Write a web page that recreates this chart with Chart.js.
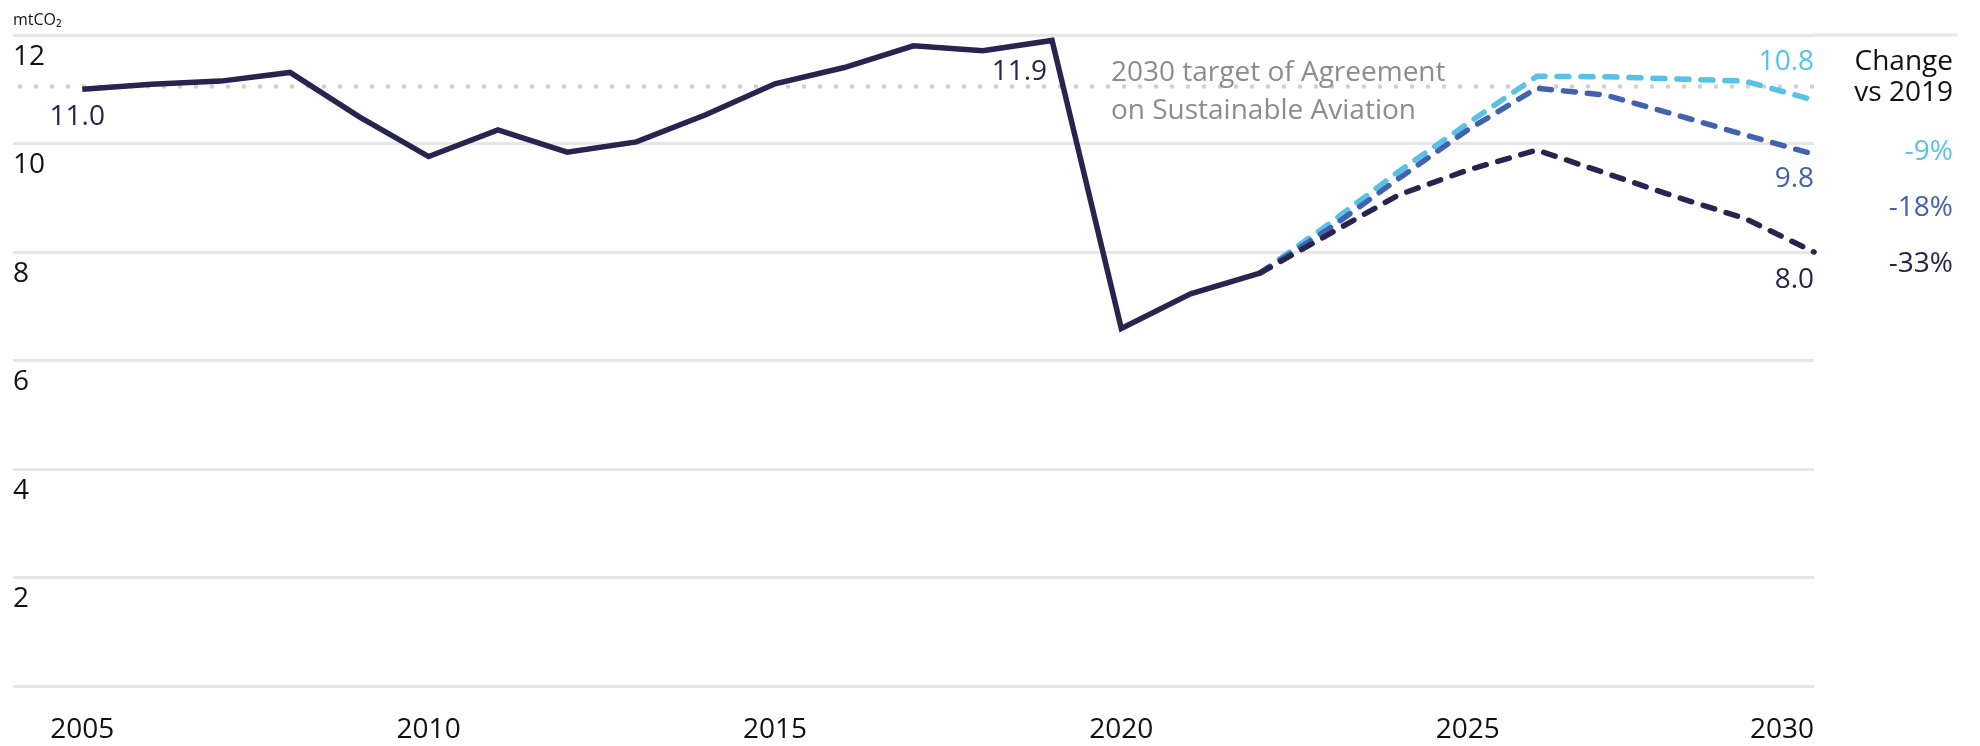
<!DOCTYPE html>
<html>
<head>
<meta charset="utf-8">
<script src="https://cdn.jsdelivr.net/npm/chart.js@4.4.1/dist/chart.umd.min.js"></script>
<style>
  html, body { margin: 0; padding: 0; background: #ffffff; }
  #wrap { width: 1980px; height: 746px; position: relative; }
</style>
</head>
<body>
<div id="wrap"><canvas id="aviationChart"></canvas></div>
<script>
// ── Data ────────────────────────────────────────────────
const histYears     = [2005, 2006, 2007, 2008, 2009, 2010, 2011, 2012, 2013, 2014, 2015, 2016, 2017, 2018, 2019, 2020, 2021, 2022];
const histEmissions = [11.0, 11.09, 11.15, 11.31, 10.49, 9.76, 10.25, 9.84, 10.03, 10.53, 11.10, 11.40, 11.80, 11.71, 11.9, 6.59, 7.23, 7.61];

const scenarioYears = [2022, 2023, 2024, 2025, 2026, 2027, 2028, 2029, 2030];
const scenarioHigh  = [7.61, 8.52, 9.48, 10.37, 11.24, 11.23, 11.19, 11.15, 10.8];
const scenarioMid   = [7.61, 8.43, 9.35, 10.25, 11.02, 10.89, 10.53, 10.16, 9.8];
const scenarioLow   = [7.61, 8.33, 9.05, 9.51, 9.88, 9.45, 9.02, 8.62, 8.0];

const targetLevel   = 11.05;
const targetYears   = [2004, 2030];
const targetText    = ["2030 target of Agreement", "on Sustainable Aviation"];

const xTickValues   = [2004, 2005, 2010, 2015, 2020, 2025, 2030];
const yTickValues   = [0, 2, 4, 6, 8, 10, 12];
const unitLabel     = "mtCO\u2082";
const changeTitle   = ["Change", "vs 2019"];

// ── Colours / fonts ─────────────────────────────────────
const NAVY  = "#29234f";
const MID   = "#4262ae";
const LIGHT = "#57c2e6";
const GREY  = "#8c8c8c";
const GRID  = "#e6e6e6";
const FONT  = "'Open Sans', 'Noto Sans', sans-serif";

const toPoints = (xs, ys) => xs.map((x, i) => ({ x, y: ys[i] }));

// ── Annotation plugin: value labels, target note, change column ──
const annotations = {
  id: "annotations",
  beforeDatasetsDraw(chart) {
    // top gridline runs on under the change column
    const { ctx, chartArea: area, scales: { y } } = chart;
    const yTop = y.getPixelForValue(12);
    ctx.save();
    ctx.strokeStyle = GRID;
    ctx.lineWidth = 3;
    ctx.beginPath();
    ctx.moveTo(area.right, yTop);
    ctx.lineTo(area.right + 143, yTop);
    ctx.stroke();
    ctx.restore();
  },
  afterDatasetsDraw(chart) {
    const { ctx, chartArea: area, scales: { x, y } } = chart;
    const base2019 = histEmissions[histYears.indexOf(2019)];

    ctx.save();
    ctx.textBaseline = "alphabetic";

    // unit
    ctx.font = `16px ${FONT}`;
    ctx.fillStyle = "#111111";
    ctx.textAlign = "left";
    ctx.fillText(unitLabel, area.left, area.top - 10);

    ctx.font = `28px ${FONT}`;

    // first and peak historical values
    const v2005 = histEmissions[0];
    ctx.fillStyle = NAVY;
    ctx.textAlign = "center";
    ctx.fillText(v2005.toFixed(1), x.getPixelForValue(2005) - 5, y.getPixelForValue(v2005) + 36);

    ctx.textAlign = "right";
    ctx.fillText(base2019.toFixed(1), x.getPixelForValue(2019) - 5, y.getPixelForValue(base2019) + 40);

    // target note
    ctx.fillStyle = GREY;
    ctx.textAlign = "left";
    const tx = x.getPixelForValue(2019.85);
    const ty = y.getPixelForValue(targetLevel);
    ctx.fillText(targetText[0], tx, ty - 6);
    ctx.fillText(targetText[1], tx, ty + 32);

    // 2030 end values
    const ends = [
      { data: scenarioHigh, color: LIGHT, dy: -30 },
      { data: scenarioMid,  color: MID,   dy: 33 },
      { data: scenarioLow,  color: NAVY,  dy: 36 }
    ];
    ctx.textAlign = "right";
    ends.forEach((s) => {
      const last = s.data[s.data.length - 1];
      ctx.fillStyle = s.color;
      ctx.fillText(last.toFixed(1), area.right, y.getPixelForValue(last) + s.dy);
    });

    // change vs 2019 column
    const colX = area.right + 139;
    ctx.fillStyle = "#111111";
    ctx.fillText(changeTitle[0], colX, area.top + 35);
    ctx.fillText(changeTitle[1], colX, area.top + 66);

    ends.forEach((s, i) => {
      const last = s.data[s.data.length - 1];
      const pct = Math.round((last / base2019 - 1) * 100);
      ctx.fillStyle = s.color;
      ctx.fillText(`${pct}%`, colX, area.top + 125 + i * 56);
    });

    ctx.restore();
  }
};

// ── Chart ───────────────────────────────────────────────
const ctx = document.getElementById("aviationChart").getContext("2d");

const dashed = {
  borderWidth: 5.5,
  borderDash: [12, 12],
  borderCapStyle: "round",
  pointRadius: 0,
  tension: 0,
  fill: false,
  clip: false
};

new Chart(ctx, {
  type: "line",
  data: {
    datasets: [
      {
        label: "Target",
        data: toPoints(targetYears, [targetLevel, targetLevel]),
        borderColor: "#d0d0d0",
        borderWidth: 4.5,
        borderDash: [0, 16],
        borderDashOffset: -7,
        borderCapStyle: "round",
        pointRadius: 0,
        order: 5
      },
      { label: "High", data: toPoints(scenarioYears, scenarioHigh), borderColor: LIGHT, order: 4, ...dashed },
      { label: "Mid",  data: toPoints(scenarioYears, scenarioMid),  borderColor: MID,   order: 3, ...dashed },
      { label: "Low",  data: toPoints(scenarioYears, scenarioLow),  borderColor: NAVY,  order: 2, ...dashed },
      {
        label: "Emissions",
        data: toPoints(histYears, histEmissions),
        borderColor: NAVY,
        borderWidth: 5.5,
        pointRadius: 0,
        tension: 0,
        clip: false,
        order: 1
      }
    ]
  },
  options: {
    responsive: true,
    maintainAspectRatio: false,
    animation: false,
    layout: { padding: { left: 13, right: 166, top: 35, bottom: 0 } },
    plugins: {
      legend: { display: false },
      tooltip: { enabled: false }
    },
    scales: {
      x: {
        type: "linear",
        min: 2004,
        max: 2030,
        afterBuildTicks: (axis) => { axis.ticks = xTickValues.map((v) => ({ value: v })); },
        afterFit: (axis) => {
          axis.height = 60;
          axis.paddingLeft = 0;
          axis.paddingRight = 0;
        },
        grid: { display: false },
        border: { display: false },
        ticks: {
          align: "inner",
          padding: 19,
          maxRotation: 0,
          autoSkip: false,
          color: "#111111",
          font: { family: FONT, size: 28 },
          callback: (v) => (v === 2004 ? "" : String(v))
        }
      },
      y: {
        min: 0,
        max: 12,
        afterBuildTicks: (axis) => { axis.ticks = yTickValues.map((v) => ({ value: v })); },
        grid: { color: GRID, lineWidth: 3, drawTicks: false },
        border: { display: false },
        ticks: {
          mirror: true,
          padding: 0,
          labelOffset: 22,
          color: "#111111",
          font: { family: FONT, size: 28 },
          callback: (v) => (v === 0 ? "" : String(v))
        }
      }
    }
  },
  plugins: [annotations]
});
</script>
</body>
</html>
